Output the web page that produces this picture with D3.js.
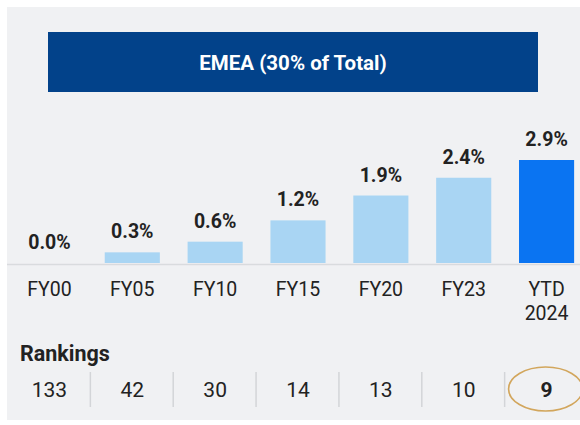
<!DOCTYPE html>
<html>
<head>
<meta charset="utf-8">
<script src="https://cdn.jsdelivr.net/npm/d3@7"></script>
<style>
html,body{margin:0;padding:0;background:#fff;}
svg{display:block;font-family:Roboto, "Noto Sans", Arial, sans-serif;}
</style>
</head>
<body>
<svg id="chart" width="580" height="425"></svg>
<script>
const title = "EMEA (30% of Total)";
const categories = ["FY00","FY05","FY10","FY15","FY20","FY23","YTD 2024"];
const values = [0.0, 0.3, 0.6, 1.2, 1.9, 2.4, 2.9];
const rankings = [133, 42, 30, 14, 13, 10, 9];
const rankingsLabel = "Rankings";

const svg = d3.select("#chart");
svg.append("rect").attr("x",7).attr("y",7).attr("width",573).attr("height",413).attr("fill","#f0f1f3");

// title box
svg.append("rect").attr("x",48).attr("y",32).attr("width",490).attr("height",60).attr("fill","#02428a");
svg.append("text").attr("x",293).attr("y",69.5).attr("text-anchor","middle")
  .attr("fill","#fff").attr("font-size",20.5).attr("font-weight",700).text(title);

const x = d3.scaleBand().domain(categories).range([8,588]).paddingInner(0.335).paddingOuter(0.1675);
const baseY = 263;
const y = d3.scaleLinear().domain([0,2.9]).range([baseY,160]);

// axis line
svg.append("line").attr("x1",7).attr("x2",580).attr("y1",baseY+1.5).attr("y2",baseY+1.5)
  .attr("stroke","#d9dbde").attr("stroke-width",1.5);

const last = categories.length-1;
svg.selectAll("rect.bar").data(values).enter().append("rect").attr("class","bar")
  .attr("x",(d,i)=>x(categories[i]))
  .attr("width",x.bandwidth())
  .attr("y",d=>y(d))
  .attr("height",d=>baseY-y(d))
  .attr("fill",(d,i)=>i===last?"#0a74f2":"#a9d5f3");

svg.selectAll("text.val").data(values).enter().append("text").attr("class","val")
  .attr("x",(d,i)=>x(categories[i])+x.bandwidth()/2)
  .attr("y",d=>y(d)-14)
  .attr("text-anchor","middle").attr("font-size",19.5).attr("font-weight",700).attr("fill","#222")
  .text(d=>d.toFixed(1)+"%");

// category labels
const cat = svg.selectAll("text.cat").data(categories).enter().append("text").attr("class","cat")
  .attr("x",d=>x(d)+x.bandwidth()/2).attr("y",296)
  .attr("text-anchor","middle").attr("font-size",19.5).attr("fill","#222");
cat.each(function(d){
  const parts = d.split(" ");
  const t = d3.select(this);
  parts.forEach((p,k)=>{
    t.append("tspan").attr("x",x(d)+x.bandwidth()/2).attr("dy",k===0?0:24).text(p);
  });
});

svg.append("text").attr("x",20).attr("y",361).attr("font-size",21.5).attr("font-weight",700)
  .attr("fill","#222").text(rankingsLabel);

svg.selectAll("text.rank").data(rankings).enter().append("text").attr("class","rank")
  .attr("x",(d,i)=>x(categories[i])+x.bandwidth()/2).attr("y",397)
  .attr("text-anchor","middle").attr("font-size",21)
  .attr("font-weight",(d,i)=>i===last?700:400).attr("fill","#222").text(d=>d);

// separators
svg.selectAll("line.sep").data(categories.slice(1)).enter().append("line").attr("class","sep")
  .attr("x1",d=>x(d)-x.step()*x.paddingInner()/2 - 0.5)
  .attr("x2",d=>x(d)-x.step()*x.paddingInner()/2 - 0.5)
  .attr("y1",372).attr("y2",407).attr("stroke","#d3d5d8").attr("stroke-width",1.5);

// highlight ellipse
svg.append("ellipse").attr("cx",x(categories[last])+x.bandwidth()/2 - 1).attr("cy",389)
  .attr("rx",37).attr("ry",22).attr("fill","none").attr("stroke","#d2a65c").attr("stroke-width",1.6);
</script>
</body>
</html>
